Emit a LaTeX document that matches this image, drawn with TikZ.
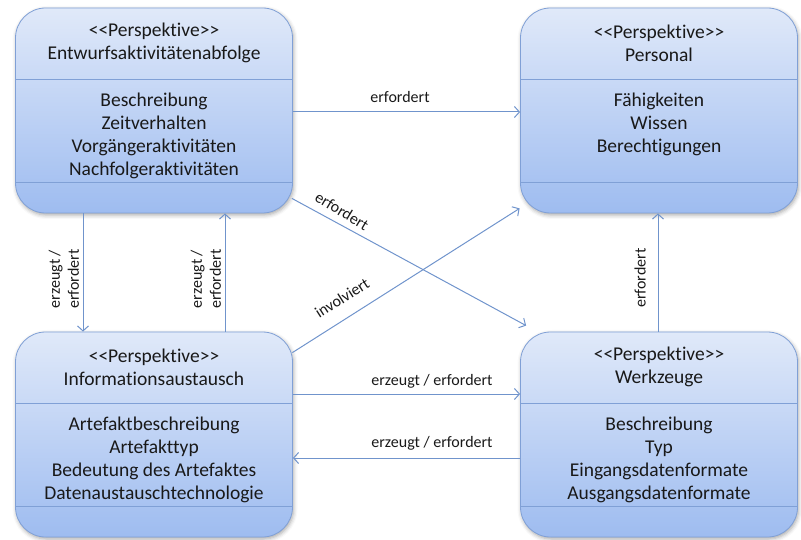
\documentclass[tikz,border=0pt]{standalone}
\usepackage{fontspec}
\setmainfont[Ligatures=NoCommon]{Carlito}
\usetikzlibrary{arrows.meta,shadows.blur,calc}
\definecolor{boxtop}{RGB}{224,233,249}
\definecolor{boxbot}{RGB}{158,188,240}
\definecolor{boxline}{RGB}{128,160,214}
\definecolor{conn}{RGB}{112,148,204}
\definecolor{txt}{RGB}{25,25,25}
\newcommand{\persp}{{<}{<}Perspektive{>}{>}}
\begin{document}
\begin{tikzpicture}[x=1pt,y=1pt,
  box/.style={rounded corners=30pt, minimum width=277pt, minimum height=205pt,
    draw=boxline, line width=0.8pt, top color=boxtop, bottom color=boxbot,
    blur shadow={shadow xshift=1pt,shadow yshift=-2pt,shadow blur radius=4pt,shadow opacity=35},
    inner sep=0pt},
  divider/.style={draw=boxline, line width=0.8pt},
  boxtext/.style={font=\fontsize{19.5}{23}\selectfont, text=txt, align=center, inner sep=0pt},
  lbl/.style={font=\fontsize{16}{19}\selectfont, text=txt, align=center, inner sep=0pt},
  conn/.style={draw=conn, line width=1pt, -{Straight Barb[length=5pt,width=11pt]}}
]
\useasboundingbox (0,0) rectangle (801,539);

% boxes
\node[box] (tl) at (154,428.5) {};
\node[box] (tr) at (659,428.5) {};
\node[box] (bl) at (154,104.5) {};
\node[box] (br) at (659,104.5) {};

% dividers
\foreach \b in {tl,tr,bl,br}{
  \draw[divider] ($(\b.north west)+(0,-72)$) -- ($(\b.north east)+(0,-72)$);
  \draw[divider] ($(\b.north west)+(0,-175)$) -- ($(\b.north east)+(0,-175)$);
}

% texts
\node[boxtext] (tlh) at ($(tl.north)+(0,-35.5)$) {\persp\\Entwurfsaktivitätenabfolge};
\node[boxtext] (tlb) at ($(tl.north)+(0,-128.5)$) {Beschreibung\\Zeitverhalten\\Vorgängeraktivitäten\\Nachfolgeraktivitäten};
\node[boxtext] (trh) at ($(tr.north)+(0,-35.5)$) {\persp\\Personal};
\node[boxtext] (trb) at ($(tr.north)+(0,-117)$) {Fähigkeiten\\Wissen\\Berechtigungen};
\node[boxtext] (blh) at ($(bl.north)+(0,-35.5)$) {\persp\\Informationsaustausch};
\node[boxtext] (blb) at ($(bl.north)+(0,-128.5)$) {Artefaktbeschreibung\\Artefakttyp\\Bedeutung des Artefaktes\\Datenaustauschtechnologie};
\node[boxtext] (brh) at ($(br.north)+(0,-35.5)$) {\persp\\Werkzeuge};
\node[boxtext] (brb) at ($(br.north)+(0,-128.5)$) {Beschreibung\\Typ\\Eingangsdatenformate\\Ausgangsdatenformate};

% connectors
\draw[conn] (tl.east |- 0,427) -- (tr.west |- 0,427);
\draw[conn] ($(tl.south east)+(-1,15)$) -- ($(br.north west)+(6,6)$);
\draw[conn] ($(bl.north east)+(-0.5,-21)$) -- ($(tr.south west)+(-0.5,5)$);
\draw[conn] (tl.south -| 83,0) -- (bl.north -| 83,0);
\draw[conn] (bl.north -| 225,0) -- (tl.south -| 225,0);
\draw[conn] (br.north -| 658,0) -- (tr.south -| 658,0);
\draw[conn] (bl.east |- 0,145) -- (br.west |- 0,145);
\draw[conn] (br.west |- 0,81) -- (bl.east |- 0,81);

% labels
\node[lbl] (l1) at (400,442) {erfordert};
\node[lbl, rotate=-31] (l2) at (342,328) {erfordert};
\node[lbl, rotate=32.5] (l3) at (342,241) {involviert};
\node[lbl, rotate=90] (l4) at (64,260) {erzeugt /\\erfordert};
\node[lbl, rotate=90] (l5) at (206,260) {erzeugt /\\erfordert};
\node[lbl, rotate=90] (l6) at (640,261) {erfordert};
\node[lbl] (l7) at (432,158) {erzeugt / erfordert};
\node[lbl] (l8) at (432,96) {erzeugt / erfordert};
\end{tikzpicture}
\end{document}
